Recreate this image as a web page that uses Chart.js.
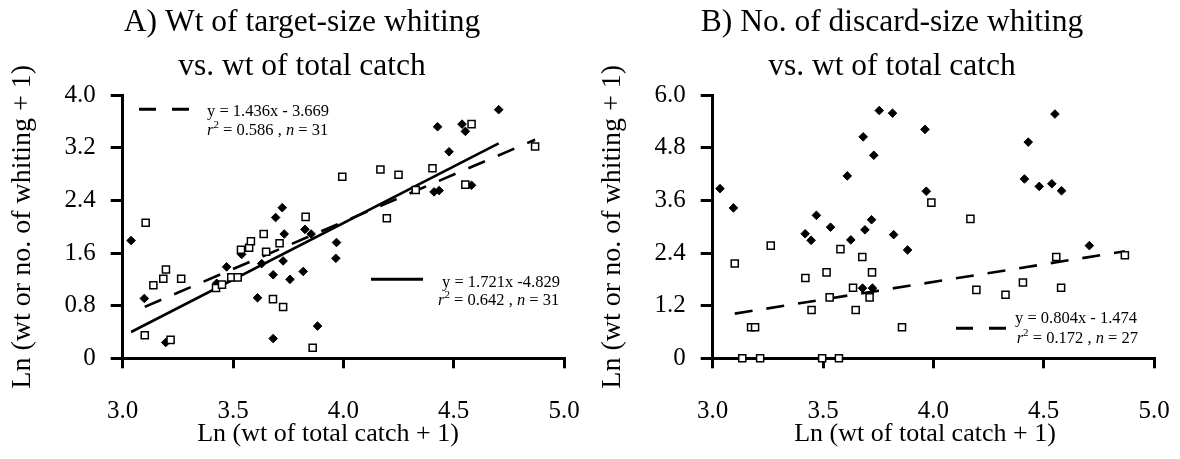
<!DOCTYPE html>
<html>
<head>
<meta charset="utf-8">
<script src="https://cdn.jsdelivr.net/npm/chart.js@4.4.1/dist/chart.umd.min.js"></script>
<style>
  html, body { margin: 0; padding: 0; background: #fff; }
  .panel { position: absolute; top: 0; width: 590px; height: 459px; }
</style>
</head>
<body>
<div class="panel" style="left:0"><canvas id="chartA" width="590" height="459"></canvas></div>
<div class="panel" style="left:590px"><canvas id="chartB" width="590" height="459"></canvas></div>
<script>
// x axis ticks (both panels)
const xTicks = [3.0, 3.5, 4.0, 4.5, 5.0];
const yTicksA = [0, 0.8, 1.6, 2.4, 3.2, 4.0];
const yTicksB = [0, 1.2, 2.4, 3.6, 4.8, 6.0];

// Panel A: wt of target-size whiting
const aDiamondX = [3.038, 3.098, 3.195, 3.426, 3.471, 3.539, 3.611, 3.630, 3.682, 3.682, 3.693, 3.723, 3.727, 3.732, 3.758,
                   3.818, 3.826, 3.854, 3.883, 3.966, 3.969, 4.411, 4.427, 4.434, 4.479, 4.538, 4.553, 4.581, 4.704];
const aDiamondY = [1.79, 0.91, 0.24, 1.14, 1.39, 1.58, 0.92, 1.44, 1.27, 0.30, 2.14, 2.29, 1.48, 1.89, 1.20,
                   1.32, 1.96, 1.89, 0.49, 1.52, 1.76, 2.53, 3.52, 2.55, 3.14, 3.56, 3.45, 2.63, 3.78];
const aSquareX = [3.100, 3.104, 3.139, 3.184, 3.196, 3.217, 3.265, 3.423, 3.450, 3.492, 3.521, 3.536, 3.573, 3.581, 3.639,
                  3.650, 3.681, 3.711, 3.727, 3.829, 3.861, 3.995, 4.168, 4.197, 4.250, 4.328, 4.404, 4.553, 4.581, 4.869];
const aSquareY = [0.35, 2.06, 1.11, 1.21, 1.35, 0.28, 1.21, 1.07, 1.12, 1.23, 1.23, 1.65, 1.68, 1.78, 1.89,
                  1.62, 0.90, 1.75, 0.78, 2.15, 0.16, 2.76, 2.87, 2.13, 2.79, 2.56, 2.89, 2.64, 3.56, 3.22];
const aSquareFit = [1.436, -3.669];   // dashed
const aDiamondFit = [1.721, -4.829];  // solid

// Panel B: no. of discard-size whiting
const bDiamondX = [3.033, 3.094, 3.419, 3.446, 3.470, 3.534, 3.610, 3.626, 3.679, 3.682, 3.690, 3.720, 3.724, 3.730,
                   3.755, 3.815, 3.820, 3.883, 3.962, 3.968, 4.413, 4.430, 4.480, 4.537, 4.551, 4.581, 4.707];
const bDiamondY = [3.87, 3.43, 2.84, 2.69, 3.26, 2.99, 4.16, 2.70, 1.60, 5.05, 2.93, 3.16, 1.60, 4.63,
                   5.65, 5.59, 2.82, 2.47, 5.22, 3.81, 4.09, 4.93, 3.92, 3.98, 5.57, 3.82, 2.57];
const bSquareX = [3.100, 3.134, 3.174, 3.192, 3.215, 3.263, 3.420, 3.448, 3.496, 3.516, 3.530, 3.572, 3.579, 3.636,
                  3.648, 3.678, 3.711, 3.722, 3.858, 3.991, 4.168, 4.195, 4.327, 4.406, 4.557, 4.579, 4.868];
const bSquareY = [2.16, 0, 0.71, 0.71, 0, 2.57, 1.83, 1.10, 0, 1.96, 1.39, 0, 2.49, 1.61,
                  1.10, 2.31, 1.39, 1.96, 0.71, 3.55, 3.18, 1.56, 1.45, 1.73, 2.31, 1.61, 2.35];
const bSquareFit = [0.804, -1.474];   // dashed

const xTitle = 'Ln (wt of total catch + 1)';
const yTitle = 'Ln (wt or no. of whiting + 1)';

const serif = '"Liberation Serif", "Times New Roman", serif';
Chart.defaults.font.family = serif;
Chart.defaults.color = '#000';

function zip(xs, ys) {
    return xs.map((x, i) => ({x: x, y: ys[i]}));
}

function fitLine(fit, xs) {
    const lo = Math.min(...xs), hi = Math.max(...xs);
    return [{x: lo, y: fit[0] * lo + fit[1]}, {x: hi, y: fit[0] * hi + fit[1]}];
}

function fmt(v) {
    return v === 0 ? '0' : v.toFixed(1);
}

// equation notes with their line keys, plus the x axis caption (sits a bit left of centre)
const notesPlugin = {
    id: 'notes',
    afterDraw(chart, args, opts) {
        const ctx = chart.ctx;
        ctx.save();
        ctx.fillStyle = '#000';
        ctx.strokeStyle = '#000';
        ctx.textBaseline = 'alphabetic';
        opts.items.forEach(it => {
            ctx.lineWidth = 3;
            ctx.setLineDash(it.dashed ? [17, 16] : []);
            ctx.beginPath();
            ctx.moveTo(it.key[0], it.key[2]);
            ctx.lineTo(it.key[1], it.key[2]);
            ctx.stroke();
            ctx.setLineDash([]);
            runs(ctx, it.eqPos[0], it.eqPos[1], [{t: it.eq}]);
            runs(ctx, it.rPos[0], it.rPos[1], [
                {t: 'r', it: true}, {t: '2', size: 11, dy: -7}, {t: ' = ' + it.r2 + ' , '},
                {t: 'n', it: true}, {t: ' = ' + it.n}
            ]);
        });
        ctx.font = '26px ' + serif;
        ctx.textAlign = 'center';
        ctx.fillText(xTitle, opts.xTitlePos[0], opts.xTitlePos[1]);
        ctx.restore();
    }
};

function runs(ctx, x, y, parts) {
    parts.forEach(p => {
        ctx.font = (p.it ? 'italic ' : '') + (p.size || 16.5) + 'px ' + serif;
        ctx.fillText(p.t, x, y + (p.dy || 0));
        x += ctx.measureText(p.t).width;
    });
}

function makeChart(id, title, sqX, sqY, dmX, dmY, fits, yTicks, notes, xTitlePos) {
    const datasets = [
        {data: zip(sqX, sqY), pointStyle: 'rect', pointRadius: 5, borderWidth: 1.5,
         backgroundColor: '#fff', borderColor: '#000', clip: false},
        {data: zip(dmX, dmY), pointStyle: 'rectRot', pointRadius: 4.3, borderWidth: 1,
         backgroundColor: '#000', borderColor: '#000', clip: false}
    ];
    fits.forEach(f => {
        datasets.push({data: fitLine(f.fit, f.xs), showLine: true, pointRadius: 0,
                       borderColor: '#000', borderWidth: 2.6, borderDash: f.dashed ? [18, 14] : [],
                       clip: false});
    });
    const yMax = yTicks[yTicks.length - 1];
    return new Chart(document.getElementById(id), {
        type: 'scatter',
        data: {datasets: datasets},
        plugins: [notesPlugin],
        options: {
            responsive: false,
            animation: false,
            events: [],
            layout: {padding: {left: 40, right: 26, top: 0, bottom: 0}},
            scales: {
                x: {
                    min: 3.0, max: 5.0,
                    afterFit: s => { s.height = 100.7; },
                    afterBuildTicks: s => { s.ticks = xTicks.map(v => ({value: v})); },
                    // tall line height pushes the labels down without widening the side padding
                    ticks: {callback: fmt, padding: 4, font: {size: 25, lineHeight: 3.1}, maxRotation: 0},
                    grid: {drawOnChartArea: false, tickLength: 10, color: '#000', lineWidth: 3},
                    border: {display: true, color: '#000', width: 3}
                },
                y: {
                    min: 0, max: yMax,
                    afterFit: s => { s.width = 82.7; },
                    afterBuildTicks: s => { s.ticks = yTicks.map(v => ({value: v})); },
                    ticks: {callback: fmt, padding: 15, font: {size: 25}},
                    grid: {drawOnChartArea: false, tickLength: 12, color: '#000', lineWidth: 3},
                    border: {display: true, color: '#000', width: 3},
                    title: {display: true, text: yTitle, font: {size: 28},
                            padding: {top: -34, bottom: 0}}
                }
            },
            plugins: {
                legend: {display: false},
                tooltip: {enabled: false},
                title: {
                    display: true,
                    text: title,
                    font: {size: 31.5, weight: 'normal', lineHeight: 1.4},
                    padding: {top: 1, bottom: 6}
                },
                notes: {items: notes, xTitlePos: xTitlePos}
            }
        }
    });
}

makeChart('chartA', ['A) Wt of target-size whiting', 'vs. wt of total catch'],
    aSquareX, aSquareY, aDiamondX, aDiamondY,
    [{fit: aSquareFit, xs: aSquareX, dashed: true}, {fit: aDiamondFit, xs: aDiamondX, dashed: false}],
    yTicksA,
    [
        {dashed: true, key: [139, 189, 109.3], eqPos: [207, 116], rPos: [207, 135],
         eq: 'y = 1.436x - 3.669', r2: '0.586', n: '31'},
        {dashed: false, key: [371, 423, 279.3], eqPos: [442, 287], rPos: [438, 304.5],
         eq: 'y = 1.721x -4.829', r2: '0.642', n: '31'}
    ],
    [328, 441]);

makeChart('chartB', ['B) No. of discard-size whiting', 'vs. wt of total catch'],
    bSquareX, bSquareY, bDiamondX, bDiamondY,
    [{fit: bSquareFit, xs: bSquareX, dashed: true}],
    yTicksB,
    [
        {dashed: true, key: [366, 416, 328.3], eqPos: [425, 323.3], rPos: [426.7, 342.7],
         eq: 'y = 0.804x - 1.474', r2: '0.172', n: '27'}
    ],
    [335, 441]);
</script>
</body>
</html>
